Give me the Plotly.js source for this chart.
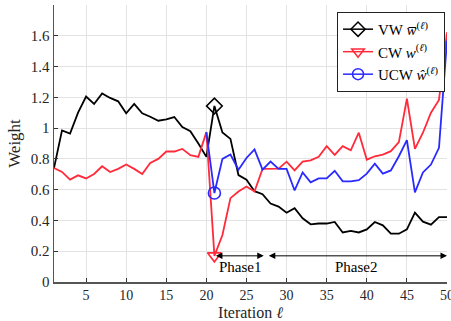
<!DOCTYPE html>
<html>
<head>
<meta charset="utf-8">
<script src="https://cdn.plot.ly/plotly-3.0.1.min.js"></script>
<style>html,body{margin:0;padding:0;background:#fff;}#chart{width:451px;height:321px;}</style>
</head>
<body>
<div id="chart"></div>
<script>
const iterations = [1,2,3,4,5,6,7,8,9,10,11,12,13,14,15,16,17,18,19,20,21,22,23,24,25,26,27,28,29,30,31,32,33,34,35,36,37,38,39,40,41,42,43,44,45,46,47,48,49,50];
const vwValues = [0.74,0.985,0.965,1.10,1.205,1.157,1.225,1.196,1.174,1.096,1.157,1.096,1.074,1.048,1.057,1.072,1.007,0.98,0.90,0.813,1.144,0.972,0.93,0.695,0.665,0.59,0.57,0.51,0.49,0.45,0.48,0.414,0.375,0.38,0.38,0.39,0.322,0.332,0.322,0.342,0.39,0.368,0.314,0.314,0.342,0.451,0.392,0.373,0.421,0.421];
const cwValues = [0.741,0.715,0.665,0.693,0.673,0.702,0.752,0.715,0.735,0.763,0.735,0.702,0.774,0.80,0.848,0.848,0.865,0.824,0.813,0.974,0.17,0.305,0.545,0.588,0.621,0.588,0.735,0.737,0.737,0.782,0.725,0.782,0.79,0.813,0.883,0.826,0.883,0.856,0.97,0.795,0.817,0.828,0.85,0.909,1.192,0.865,0.97,1.10,1.183,1.623];
const ucwValues = [null,null,null,null,null,null,null,null,null,null,null,null,null,null,null,null,null,null,null,0.974,0.578,0.80,0.828,0.73,0.806,0.861,0.73,0.783,0.735,0.735,0.595,0.712,0.647,0.673,0.673,0.723,0.654,0.654,0.662,0.704,0.769,0.704,0.725,0.817,0.922,0.582,0.712,0.763,0.872,1.569];
const seriesNames = ['VW <i>w̅</i><sup>(<i>ℓ</i>)</sup>', 'CW <i>w</i><sup>(<i>ℓ</i>)</sup>', 'UCW <i>ŵ</i><sup>(<i>ℓ</i>)</sup>'];
const markedIteration = 21;
const phaseLabels = ['Phase1', 'Phase2'];
const phaseBounds = [[21, 27.15], [27.6, 50]];
const phaseLevel = 0.17;
const phaseLabelX = [24.3, 38.7];
const phaseLabelY = 0.096;
const yTicks = [0,0.2,0.4,0.6,0.8,1,1.2,1.4,1.6];
const yTickText = ['0','0.2','0.4','0.6','0.8','1','1.2','1.4','1.6'];
const xTicks = [5,10,15,20,25,30,35,40,45,50];

const font = 'Liberation Serif, Times New Roman, serif';
const colors = ['#000000', '#ff2a3a', '#2a2aff'];
const symbols = ['diamond-open', 'triangle-down-open', 'circle-open'];
const allSeries = [vwValues, cwValues, ucwValues];

const data = [];
allSeries.forEach((y, k) => {
  data.push({x: iterations, y: y, type: 'scatter', mode: 'lines', showlegend: false,
    line: {color: colors[k], width: 1.8}, cliponaxis: false});
});
allSeries.forEach((y, k) => {
  const idx = iterations.indexOf(markedIteration);
  data.push({x: [iterations[idx]], y: [y[idx]], type: 'scatter', mode: 'markers', showlegend: false,
    marker: {size: 12, symbol: symbols[k], color: colors[k], line: {color: colors[k], width: 1.6}}, cliponaxis: false});
});
allSeries.forEach((y, k) => {
  data.push({x: [null], y: [null], type: 'scatter', mode: 'lines+markers', name: seriesNames[k], showlegend: true,
    line: {color: colors[k], width: 1.5},
    marker: {size: 11, symbol: symbols[k], color: colors[k], line: {color: colors[k], width: 1.5}}});
});

const annotations = [];
phaseBounds.forEach(b => {
  annotations.push({x: b[1], y: phaseLevel, ax: b[0], ay: phaseLevel, xref: 'x', yref: 'y', axref: 'x', ayref: 'y',
    text: '', showarrow: true, arrowhead: 2, startarrowhead: 2, arrowside: 'end+start', arrowsize: 1.3, arrowwidth: 1, arrowcolor: '#000', standoff: 0, startstandoff: 0});
});
phaseLabels.forEach((t, k) => {
  annotations.push({x: phaseLabelX[k], y: phaseLabelY, xref: 'x', yref: 'y', text: t, showarrow: false,
    font: {family: font, size: 15, color: '#000'}});
});

const layout = {
  width: 451, height: 321,
  margin: {l: 54, r: 4, t: 5, b: 39},
  paper_bgcolor: '#fff', plot_bgcolor: '#fff',
  font: {family: font, size: 15, color: '#262626'},
  showlegend: true,
  legend: {x: 0.995, y: 0.975, xanchor: 'right', yanchor: 'top', bgcolor: '#fff', bordercolor: '#222', borderwidth: 1,
    font: {family: font, size: 15, color: '#000'}, tracegroupgap: 0},
  xaxis: {range: [1, 50], tickvals: xTicks, ticks: 'inside', ticklen: 4, tickcolor: '#333',
    showgrid: true, gridcolor: '#e3e3e3', gridwidth: 1, zeroline: false,
    showline: true, linecolor: '#555', linewidth: 1.5, ticklabeloverflow: 'allow',
    tickfont: {family: font, size: 14, color: '#262626'},
    title: {text: 'Iteration <i>ℓ</i>', font: {family: font, size: 16, color: '#262626'}, standoff: 8}},
  yaxis: {range: [0, 1.8], tickvals: yTicks, ticktext: yTickText, ticks: 'inside', ticklen: 4, tickcolor: '#333',
    showgrid: true, gridcolor: '#e3e3e3', gridwidth: 1, zeroline: false,
    showline: true, linecolor: '#555', linewidth: 1.5,
    tickfont: {family: font, size: 15, color: '#262626'},
    title: {text: 'Weight', font: {family: font, size: 17, color: '#262626'}, standoff: 6}},
  annotations: annotations
};
Plotly.newPlot('chart', data, layout, {displayModeBar: false, staticPlot: true});
</script>
</body>
</html>
